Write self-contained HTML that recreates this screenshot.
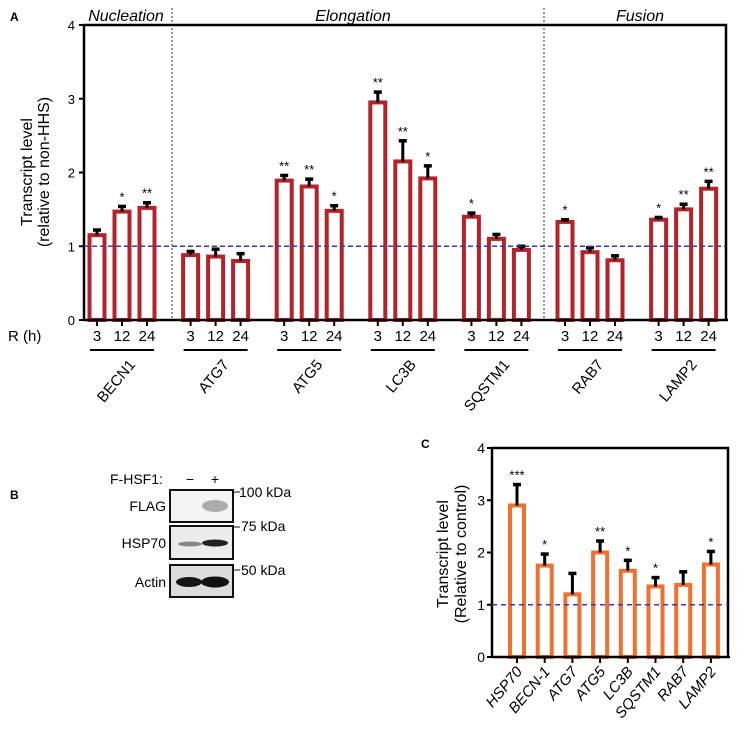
<!DOCTYPE html>
<html><head><meta charset="utf-8">
<style>
html,body{margin:0;padding:0;background:#fff;}
svg{display:block;font-family:"Liberation Sans",Arial,sans-serif;}
</style></head>
<body>
<svg id="fig" width="741" height="737" viewBox="0 0 741 737">
<g id="panelA"></g>
<g id="panelB">
  <text x="10" y="499" font-size="12" font-weight="bold">B</text>
  <text x="110" y="484" font-size="14">F-HSF1:</text>
  <text x="190" y="484" font-size="14" text-anchor="middle">−</text>
  <text x="215" y="484" font-size="14" text-anchor="middle">+</text>
  <rect x="170" y="490" width="63" height="32" fill="#f4f4f4" stroke="#111" stroke-width="2"/>
  <ellipse cx="215" cy="506" rx="13" ry="6" fill="#9a9a9a" opacity="0.8"/>
  <rect x="170" y="526" width="63" height="33" fill="#ececec" stroke="#111" stroke-width="2"/>
  <ellipse cx="190" cy="544" rx="12" ry="2.5" fill="#888"/>
  <ellipse cx="215" cy="543" rx="13" ry="3.5" fill="#222"/>
  <rect x="170" y="565" width="63" height="32" fill="#dcdcdc" stroke="#111" stroke-width="2"/>
  <ellipse cx="189" cy="582" rx="13" ry="5" fill="#151515"/>
  <ellipse cx="215" cy="582" rx="14" ry="5.5" fill="#111"/>
  <text x="166" y="511" font-size="14" text-anchor="end">FLAG</text>
  <text x="166" y="548" font-size="14" text-anchor="end">HSP70</text>
  <text x="166" y="587" font-size="14" text-anchor="end">Actin</text>
  <line x1="234" y1="492" x2="240" y2="492" stroke="#111"/>
  <text x="239" y="497" font-size="14">100 kDa</text>
  <line x1="234" y1="527" x2="240" y2="527" stroke="#111"/>
  <text x="241" y="531" font-size="14">75 kDa</text>
  <line x1="234" y1="570" x2="240" y2="570" stroke="#111"/>
  <text x="241" y="575" font-size="14">50 kDa</text>
</g>
<g id="panelC"></g>
</svg>
<script>
// ---------- Panel A data ----------
const genesA = ["BECN1","ATG7","ATG5","LC3B","SQSTM1","RAB7","LAMP2"];
const timesA = ["3","12","24"];
const valuesA = [1.15,1.47,1.52, 0.88,0.86,0.80, 1.89,1.81,1.48, 2.95,2.15,1.92, 1.40,1.10,0.95, 1.33,0.92,0.81, 1.36,1.50,1.78];
const errorsA = [0.07,0.07,0.07, 0.05,0.10,0.10, 0.07,0.10,0.07, 0.14,0.28,0.17, 0.05,0.06,0.05, 0.03,0.06,0.06, 0.03,0.07,0.10];
const starsA = ["","*","**", "","","", "**","**","*", "**","**","*", "*","","", "*","","", "*","**","**"];
const ticksA = [0,1,2,3,4];
const phasesA = ["Nucleation","Elongation","Fusion"];
// ---------- Panel C data ----------
const genesC = ["HSP70","BECN-1","ATG7","ATG5","LC3B","SQSTM1","RAB7","LAMP2"];
const valuesC = [2.90,1.75,1.20,2.00,1.65,1.35,1.38,1.77];
const errorsC = [0.40,0.22,0.40,0.22,0.20,0.17,0.25,0.25];
const starsC = ["***","*","","**","*","*","","*"];
const ticksC = [0,1,2,3,4];

const NS="http://www.w3.org/2000/svg";
function mk(parent,tag,attrs,text){const e=document.createElementNS(NS,tag);for(const k in attrs)e.setAttribute(k,attrs[k]);if(text!==undefined)e.textContent=text;parent.appendChild(e);return e;}

// ---------- Panel A ----------
(function(){
 const g=document.getElementById('panelA');
 const x0=84,x1=726,yTop=25,yBot=320,vmax=4;
 const yA=v=>yBot-(v/vmax)*(yBot-yTop);
 const groupStart=97, groupStep=93.6, barStep=25, bw=19;
 const xA=(gi,ti)=>groupStart+gi*groupStep+ti*barStep;
 let t=mk(g,'text',{x:10,y:21,'font-size':12,'font-weight':'bold'},'A');
 
 let f=mk(g,'path',{d:`M${x0} ${yBot} L${x0} ${yTop} L${x1} ${yTop} L${x1} ${yBot}`,fill:'none',stroke:'#000','stroke-width':2.5});
 
 [172,544].forEach((dx,i)=>{const l=mk(g,'line',{x1:dx,y1:8,x2:dx,y2:yBot,stroke:'#000','stroke-width':0.8,'stroke-dasharray':'2,2'});
  });
 const phaseX=[126,353,640];
 phasesA.forEach((p,i)=>{const e=mk(g,'text',{x:phaseX[i],y:21,'font-size':16,'font-style':'italic','text-anchor':'middle'},p);
  });
 ticksA.forEach(v=>{const y=yA(v);
  const l=mk(g,'line',{x1:x0-5,y1:y,x2:x0,y2:y,stroke:'#000','stroke-width':2});
  
  const e=mk(g,'text',{x:x0-9,y:y+5,'font-size':13,'text-anchor':'end'},String(v));
  });
 const yt=mk(g,'text',{transform:'translate(32,172) rotate(-90)','font-size':16,'text-anchor':'middle'});
 
 mk(yt,'tspan',{x:0,dy:0},'Transcript level');mk(yt,'tspan',{x:0,dy:17},'(relative to non-HHS)');
 valuesA.forEach((v,i)=>{const gi=Math.floor(i/3),ti=i%3,cx=xA(gi,ti);
  const r=mk(g,'rect',{x:cx-bw/2+2,y:yA(v),width:bw-4,height:yBot-yA(v),fill:'#fff',stroke:'#b5222a','stroke-width':4});
  
  const ye=yA(v+errorsA[i]);
  const el=mk(g,'line',{x1:cx,y1:yA(v),x2:cx,y2:ye,stroke:'#000','stroke-width':3});
  
  const cap=mk(g,'line',{x1:cx-4,y1:ye,x2:cx+4,y2:ye,stroke:'#000','stroke-width':3.5});
  
  if(starsA[i]){const s=mk(g,'text',{x:cx,y:ye-5,'font-size':13,'text-anchor':'middle'},starsA[i]);
   }
  const tk=mk(g,'line',{x1:cx,y1:yBot,x2:cx,y2:yBot+6,stroke:'#000','stroke-width':2});
  
  const tl=mk(g,'text',{x:cx,y:yBot+21,'font-size':15,'text-anchor':'middle'},timesA[ti]);
  });
 const bl=mk(g,'line',{x1:x0,y1:yBot,x2:x1+2,y2:yBot,stroke:'#000','stroke-width':2.5});
 
 const dl=mk(g,'line',{x1:x0,y1:yA(1),x2:x1,y2:yA(1),stroke:'#3a3aa8','stroke-width':1.6,'stroke-dasharray':'5,3'});
 
 const rh=mk(g,'text',{x:8,y:yBot+21,'font-size':15},'R (h)');
 
 genesA.forEach((gn,gi)=>{const c=xA(gi,1);
  const u=mk(g,'line',{x1:c-32,y1:yBot+30,x2:c+32,y2:yBot+30,stroke:'#000','stroke-width':2});
  
  const e=mk(g,'text',{transform:`translate(${c+14},${yBot+45}) rotate(-50)`,'font-size':15,'text-anchor':'end'},gn);
  });
})();

// ---------- Panel C ----------
(function(){
 const g=document.getElementById('panelC');
 const x0=492,x1=728,yTop=448,yBot=657,vmax=4;
 const yC=v=>yBot-(v/vmax)*(yBot-yTop);
 const start=517, step=27.7, bw=18;
 const xC=i=>start+i*step;
 const t=mk(g,'text',{x:421,y:448,'font-size':12,'font-weight':'bold'},'C');
 
 const f=mk(g,'path',{d:`M${x0} ${yBot} L${x0} ${yTop} L${x1} ${yTop} L${x1} ${yBot}`,fill:'none',stroke:'#000','stroke-width':2.5});
 
 ticksC.forEach(v=>{const y=yC(v);
  const l=mk(g,'line',{x1:x0-5,y1:y,x2:x0,y2:y,stroke:'#000','stroke-width':2});
  
  const e=mk(g,'text',{x:x0-7,y:y+5,'font-size':14,'text-anchor':'end'},String(v));
  });
 const yt=mk(g,'text',{transform:'translate(448,554) rotate(-90)','font-size':16,'text-anchor':'middle'});
 
 mk(yt,'tspan',{x:0,dy:0},'Transcript level');mk(yt,'tspan',{x:0,dy:18},'(Relative to control)');
 valuesC.forEach((v,i)=>{const cx=xC(i);
  const r=mk(g,'rect',{x:cx-bw/2+2,y:yC(v),width:bw-4,height:yBot-yC(v),fill:'#fff',stroke:'#f07030','stroke-width':4});
  
  const ye=yC(v+errorsC[i]);
  const el=mk(g,'line',{x1:cx,y1:yC(v),x2:cx,y2:ye,stroke:'#000','stroke-width':3});
  
  const cap=mk(g,'line',{x1:cx-4,y1:ye,x2:cx+4,y2:ye,stroke:'#000','stroke-width':3.5});
  
  if(starsC[i]){const s=mk(g,'text',{x:cx,y:ye-5,'font-size':13,'text-anchor':'middle'},starsC[i]);
   }
  const tk=mk(g,'line',{x1:cx,y1:yBot,x2:cx,y2:yBot+6,stroke:'#000','stroke-width':2});
  
  const e=mk(g,'text',{transform:`translate(${cx+6},${yBot+15}) rotate(-50)`,'font-size':15,'font-style':'italic','text-anchor':'end'},genesC[i]);
  });
 const bl=mk(g,'line',{x1:x0,y1:yBot,x2:x1+2,y2:yBot,stroke:'#000','stroke-width':2.5});
 
 const dl=mk(g,'line',{x1:x0,y1:yC(1),x2:x1,y2:yC(1),stroke:'#3a3aa8','stroke-width':1.4,'stroke-dasharray':'5,4'});
 
})();
</script>
</body></html>
